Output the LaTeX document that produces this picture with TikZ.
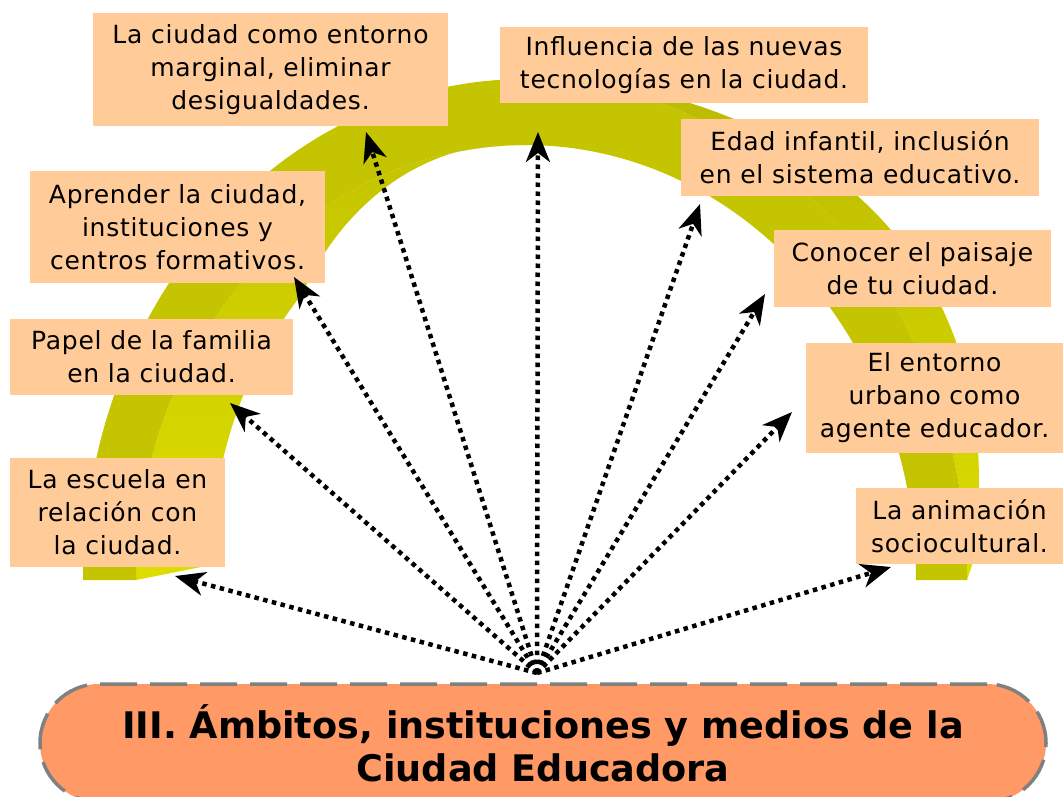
\documentclass[tikz,border=0pt]{standalone}
\usepackage{fontspec}
\setmainfont{DejaVu Sans}
\newfontfamily\boxfont{DejaVu Sans}[LetterSpace=3]
\usetikzlibrary{arrows.meta}
\usetikzlibrary{positioning}

\begin{document}
\begin{tikzpicture}[x=1pt, y=-1pt,
    kasten/.style={fill=kastenfarbe, inner sep=0pt, align=center,
        font=\boxfont\fontsize{25}{33}\selectfont},
    pfeil/.style={line width=4.5pt, dash pattern=on 4.5pt off 4.5pt,
        -{Stealth[length=30pt, width=24pt, inset=9pt]}},
    titel/.style={fill=titelfarbe, draw=randfarbe, line width=3.5pt,
        dash pattern=on 37pt off 13pt, rounded corners=59pt,
        minimum width=1006pt, minimum height=118pt, align=center,
        font=\bfseries\fontsize{36.6}{43}\selectfont}]

    % Farben
    \definecolor{kastenfarbe}{RGB}{255,204,153}
    \definecolor{titelfarbe}{RGB}{255,153,102}
    \definecolor{randfarbe}{RGB}{128,128,128}
    \definecolor{bogenfarbe}{RGB}{196,196,0}
    \definecolor{bogenhell}{RGB}{221,221,0}
    \definecolor{bogenmitte}{RGB}{212,212,0}
    \definecolor{bogendunkel}{RGB}{186,186,0}

    \useasboundingbox (0,0) rectangle (1063,797);

    % Bogen: Seitenflaechen
    \shade[top color=bogendunkel, middle color=bogenmitte, bottom color=bogenhell]
        plot[domain=0:90, samples=60] ({530+442*cos(\x)+40*sin(2*\x)},{580-501*sin(\x)-15*cos(\x)*cos(\x)*cos(\x)})
        -- plot[domain=90:0, samples=60] ({525+442*cos(\x)},{580-501*sin(\x)}) -- cycle;
    \shade[top color=bogenfarbe, bottom color=bogenhell]
        plot[domain=90:180, samples=60] ({526+390*cos(\x)+75*min(1,max(0,(\x-100)/40))},{580-435*sin(\x)+15*cos(\x)*cos(\x)*cos(\x)})
        -- plot[domain=180:90, samples=60] ({526+390*cos(\x)},{580-435*sin(\x)}) -- cycle;

    % Bogen: Vorderseite
    \fill[bogenfarbe]
        plot[domain=0:180, samples=120] ({525+442*cos(\x)},{580-501*sin(\x)})
        -- plot[domain=180:0, samples=120] ({526+390*cos(\x)},{580-435*sin(\x)}) -- cycle;

    % Themen
    \node[kasten, minimum width=355, minimum height=113] (ciudad) at (270.5,69.5) {La ciudad como entorno\\marginal, eliminar\\desigualdades.};
    \node[kasten, minimum width=368, minimum height=76] (influencia) at (684,65) {Influencia de las nuevas\\tecnologías en la ciudad.};
    \node[kasten, minimum width=358, minimum height=77] (edad) at (860,157.5) {Edad infantil, inclusión\\en el sistema educativo.};
    \node[kasten, minimum width=277, minimum height=77] (conocer) at (912.5,268.5) {Conocer el paisaje\\de tu ciudad.};
    \node[kasten, minimum width=257, minimum height=110] (entorno) at (934.5,398) {El entorno\\urbano como\\agente educador.};
    \node[kasten, minimum width=207, minimum height=76] (animacion) at (959.5,526) {La animación\\sociocultural.};
    \node[kasten, minimum width=295, minimum height=112] (aprender) at (177.5,227) {Aprender la ciudad,\\instituciones y\\centros formativos.};
    \node[kasten, minimum width=283, minimum height=76] (papel) at (151.5,357) {Papel de la familia\\en la ciudad.};
    \node[kasten, minimum width=215, minimum height=109] (escuela) at (117.5,512.5) {La escuela en\\relación con\\la ciudad.};

    % Titel
    \node[titel] (titel) at (543,743) {III. Ámbitos, instituciones y medios de la\\Ciudad Educadora};

    % Ausgangspunkt und Pfeilspitzen
    \coordinate (nabe) at (537,673);
    \coordinate (P1) at (175,576); % La escuela
    \coordinate (P2) at (230,403); % Papel
    \coordinate (P3) at (294,277); % Aprender
    \coordinate (P4) at (366,132); % La ciudad
    \coordinate (P5) at (538,132); % Influencia
    \coordinate (P6) at (700,204); % Edad infantil
    \coordinate (P7) at (765,294); % Conocer
    \coordinate (P8) at (792,412); % El entorno
    \coordinate (P9) at (891,567); % La animacion

    % Pfeile
    \foreach \p in {P1,P2,P3,P4,P5,P6,P7,P8,P9}
        \draw[pfeil] (nabe) -- (\p);

\end{tikzpicture}
\end{document}
